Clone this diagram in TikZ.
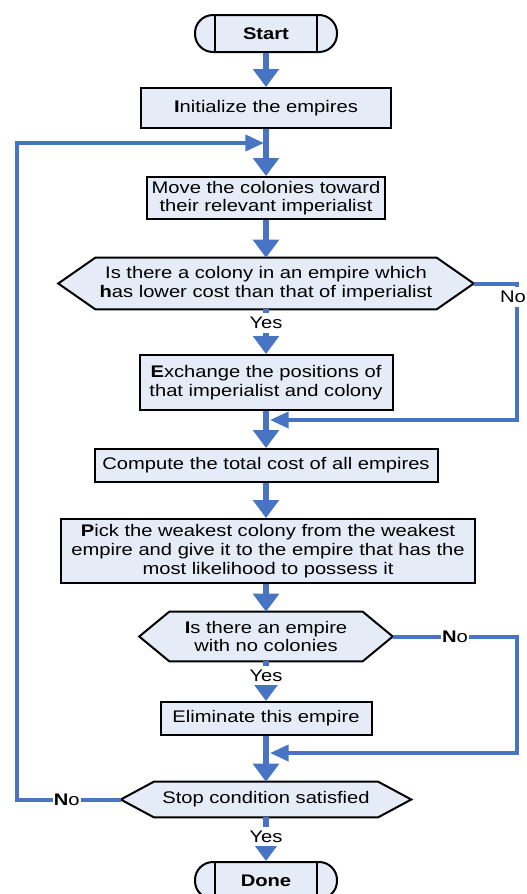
\documentclass[tikz,border=0pt]{standalone}
\usepackage{fontspec}
\setmainfont[FakeStretch=1.2]{Liberation Sans}
\usetikzlibrary{arrows.meta,backgrounds}
\definecolor{flowblue}{RGB}{71,117,196}
\definecolor{boxfill}{RGB}{229,236,247}
\newcommand{\px}{0.75pt}
\tikzset{
  txt/.style={font=\fontsize{12.6pt}{14pt}\selectfont, align=center, inner sep=0pt},
  stepbox/.style={txt, draw, line width=1.5pt, fill=boxfill},
  term/.style={stepbox, rounded corners=13.5pt, minimum width=142*\px, minimum height=37*\px,
    path picture={\draw[line width=1.5pt]
      ([xshift=15pt]path picture bounding box.north west) -- ([xshift=15pt]path picture bounding box.south west)
      ([xshift=-15pt]path picture bounding box.north east) -- ([xshift=-15pt]path picture bounding box.south east);}},
  flow/.style={flowblue, line width=4.5pt, -{Triangle[length=13.5pt,width=19pt]}},
  back/.style={flowblue, line width=3pt, -{Triangle[length=14pt,width=12pt]}},
  lbl/.style={txt, fill=white, text=black, inner xsep=1pt, inner ysep=3pt},
}
\begin{document}
\begin{tikzpicture}[x=0.75pt,y=-0.75pt]
 \useasboundingbox (0,0) rectangle (527,894);
 % steps
 \node[term] (start) at (266,33.5) {\textbf{Start}};
 \node[stepbox, minimum width=250*\px, minimum height=40*\px] (init) at (266,108) {\textbf{I}nitialize the empires};
 \node[stepbox, minimum width=238*\px, minimum height=42*\px] (move) at (266,198) {Move the colonies toward\\their relevant imperialist};
 \node[txt, minimum width=415*\px, minimum height=51*\px] (colq) at (266,283.5) {Is there a colony in an empire which\\\textbf{h}as lower cost than that of imperialist};
 \node[stepbox, minimum width=253*\px, minimum height=55*\px] (swap) at (266,382.5) {\textbf{E}xchange the positions of\\that imperialist and colony};
 \node[stepbox, minimum width=343*\px, minimum height=33*\px] (cost) at (266,465.5) {Compute the total cost of all empires};
 \node[stepbox, minimum width=414*\px, minimum height=64*\px] (pick) at (268,551) {\textbf{P}ick the weakest colony from the weakest\\empire and give it to the empire that has the\\most likelihood to possess it};
 \node[txt, minimum width=253*\px, minimum height=49*\px] (emptyq) at (266,636.5) {\textbf{I}s there an empire\\with no colonies};
 \node[stepbox, minimum width=211*\px, minimum height=33*\px] (elim) at (266,718.5) {Eliminate this empire};
 \node[txt, minimum width=290*\px, minimum height=35*\px] (stop) at (266,799.5) {Stop condition satisfied};
 \node[term] (done) at (266,880.5) {\textbf{Done}};
 % hexagons behind the questions
 \begin{scope}[on background layer]
  \foreach \d/\c in {colq/37,emptyq/30,stop/33}
   \draw[line width=1.5pt, fill=boxfill] (\d.west) -- ([xshift=\c*\px]\d.north west) -- ([xshift=-\c*\px]\d.north east)
     -- (\d.east) -- ([xshift=-\c*\px]\d.south east) -- ([xshift=\c*\px]\d.south west) -- cycle;
 \end{scope}
 % joints
 \coordinate (j0) at (264,143);
 \coordinate (l0) at (17,143);
 \coordinate (j1) at (270,420);
 \coordinate (r1) at (517,420);
 \coordinate (j2) at (270,753);
 \coordinate (r2) at (517,753);
 % main flow
 \draw[flow] (start) -- (init);
 \draw[flow] (init) -- (move);
 \draw[flow] (move) -- (colq);
 \draw[flow] (colq) -- node[lbl, pos=0.3]{Yes} (swap);
 \draw[flow] (swap) -- (cost);
 \draw[flow] (cost) -- (pick.north -| cost);
 \draw[flow] (pick.south -| emptyq) -- (emptyq);
 \draw[flow] (emptyq) -- node[lbl, pos=0.36]{Yes} (elim);
 \draw[flow] (elim) -- (stop);
 \draw[flow] (stop) -- node[lbl, pos=0.44]{Yes} (done);
 % loops
 \draw[back] (colq.east) -| node[lbl, pos=0.55, xshift=-4*\px]{No} (r1) -- (j1);
 \draw[back] (emptyq.east) -| node[lbl, pos=0.25]{\textbf{N}o} (r2) -- (j2);
 \draw[back] (stop.west) -| node[lbl, pos=0.26]{\textbf{N}o} (l0) -- (j0);
\end{tikzpicture}
\end{document}
